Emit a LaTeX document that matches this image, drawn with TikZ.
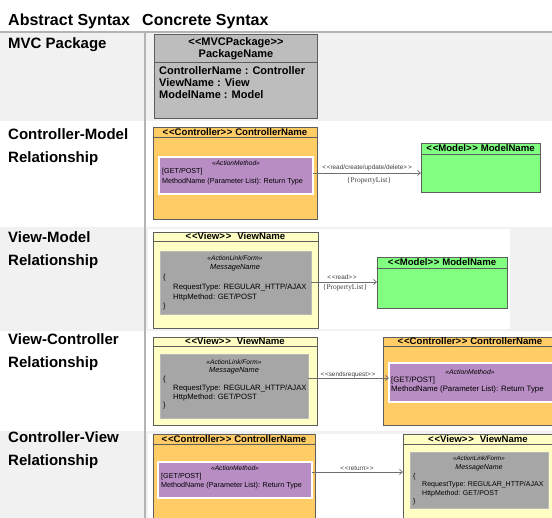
\documentclass[tikz,border=0pt]{standalone}
\usepackage{fontspec}
\setmainfont{Liberation Sans}
\newfontfamily\propfont{Liberation Serif}
\usetikzlibrary{arrows.meta,fit}

\definecolor{rowgray}{HTML}{F1F1F1}
\definecolor{sepgray}{HTML}{B4B4B4}
\definecolor{boxline}{HTML}{5E5E5E}
\definecolor{ctrlfill}{HTML}{FFCC66}
\definecolor{viewfill}{HTML}{FFFFC4}
\definecolor{modelfill}{HTML}{80FF80}
\definecolor{methfill}{HTML}{B88DC3}
\definecolor{msgfill}{HTML}{A6A6A6}
\definecolor{pkgfill}{HTML}{BDBDBD}
\definecolor{relline}{HTML}{6E6E6E}

% stereotype brackets, kept apart so they are not merged into guillemets
\newcommand\dblL{<\kern0.8pt<}
\newcommand\dblR{>\kern0.8pt>}
\newcommand\tightL{<\kern0.2pt<}
\newcommand\tightR{>\kern0.2pt>}

\begin{document}
\begin{tikzpicture}[x=1pt,y=-1pt,
  hdr/.style={font=\bfseries\fontsize{16}{18}\selectfont, inner sep=0, anchor=base west},
  rowlabel/.style={font=\bfseries\fontsize{15}{17}\selectfont, inner sep=0, anchor=base west},
  cls/.style={draw=boxline, line width=0.7pt, inner sep=0, outer sep=0},
  ttl/.style={font=\bfseries\fontsize{9.6}{11}\selectfont, inner sep=0},
  pkgtxt/.style={font=\bfseries\fontsize{11}{13}\selectfont, inner sep=0},
  meth/.style={draw=white, line width=1.2pt, fill=methfill, inner sep=0, outer sep=0},
  msg/.style={draw=gray!55, line width=0.6pt, fill=msgfill, inner sep=0, outer sep=0},
  small/.style={font=\fontsize{#1}{9}\selectfont, inner sep=0},
  smallit/.style={font=\itshape\fontsize{#1}{9}\selectfont, inner sep=0},
  rel/.style={draw=relline, line width=0.7pt, -{Straight Barb[length=3pt,width=5pt]}},
  rellabel/.style={font=\fontsize{6.4}{7}\selectfont, text=black!75, inner sep=0},
  proplabel/.style={font=\propfont\fontsize{7.4}{8}\selectfont, text=black!75, inner sep=0},
]
\useasboundingbox (0,0) rectangle (552,518);
\clip (0,0) rectangle (552,518);

% row backgrounds
\fill[white] (0,0) rectangle (552,518);
\fill[rowgray] (0,33) rectangle (552,121);
\fill[rowgray] (0,227) rectangle (552,331);
\fill[white] (148,229) rectangle (510,329);
\fill[rowgray] (0,431) rectangle (552,518);
\fill[white] (148,434) rectangle (552,518);
\draw[sepgray, line width=1.5pt] (0,32) -- (552,32);
\draw[sepgray, line width=1.5pt] (145,33) -- (145,518);

% column headings
\node[hdr] (habs) at (8,26) {Abstract Syntax};
\node[hdr] (hcon) at (142,26) {Concrete Syntax};

% row headings
\node[rowlabel] (l1) at (8,49) {MVC Package};
\node[rowlabel] (l2a) at (8,140) {Controller-Model};
\node[rowlabel] (l2b) at (8,163) {Relationship};
\node[rowlabel] (l3a) at (8,243) {View-Model};
\node[rowlabel] (l3b) at (8,266) {Relationship};
\node[rowlabel] (l4a) at (8,345) {View-Controller};
\node[rowlabel] (l4b) at (8,368) {Relationship};
\node[rowlabel] (l5a) at (8,443) {Controller-View};
\node[rowlabel] (l5b) at (8,466) {Relationship};

% ---- MVC package
\node[cls, fill=pkgfill, fit={(154,34) (317,118)}] (pkg) {};
\draw[boxline, line width=0.7pt] ([yshift=-28pt]pkg.north west) -- ([yshift=-28pt]pkg.north east);
\node[pkgtxt] (pkgst) at (236,43) {\tightL MVCPackage\tightR};
\node[pkgtxt] (pkgnm) at (236,55) {PackageName};
\node[pkgtxt, anchor=west] (pa1) at (159,71) {ControllerName : Controller};
\node[pkgtxt, anchor=west] (pa2) at (159,83) {ViewName : View};
\node[pkgtxt, anchor=west] (pa3) at (159,95) {ModelName : Model};

% ---- Controller-Model
\node[cls, fill=ctrlfill, fit={(153,127) (317,219)}] (c2) {};
\draw[boxline, line width=0.7pt] ([yshift=-10pt]c2.north west) -- ([yshift=-10pt]c2.north east);
\node[ttl] (c2t) at ([yshift=-5pt]c2.north) {\dblL Controller\dblR\ ControllerName};
\node[meth, fit={(159,157) (313,194)}] (p2) {};
\node[smallit=6.6] (p2s) at (236,163) {«ActionMethod»};
\node[small=7.2, anchor=west] (p2a) at (162,172) {[GET/POST]};
\node[small=7.2, anchor=west] (p2b) at (162,182) {MethodName (Parameter List): Return Type};

\node[cls, fill=modelfill, fit={(421,143) (540,192)}] (m2) {};
\draw[boxline, line width=0.7pt] ([yshift=-11pt]m2.north west) -- ([yshift=-11pt]m2.north east);
\node[ttl] (m2t) at ([yshift=-5.5pt]m2.north) {\dblL Model\dblR\ ModelName};

\draw[rel] ([yshift=2.5pt]p2.east) -- ([yshift=2.5pt]p2.east -| m2.west);
\node[rellabel] (r2) at (367,168) {\dblL read/create/update/delete\dblR};
\node[proplabel] (r2p) at (369,181) {\{PropertyList\}};

% ---- View-Model
\node[cls, fill=viewfill, fit={(153,232) (318,328)}] (v3) {};
\draw[boxline, line width=0.7pt] ([yshift=-9pt]v3.north west) -- ([yshift=-9pt]v3.north east);
\node[ttl] (v3t) at ([yshift=-4.5pt]v3.north) {\dblL View\dblR\hspace{6pt}ViewName};
\node[msg, fit={(160,251) (311,314)}] (g3) {};
\node[smallit=6.6] (g3s) at (235,258) {«ActionLink/Form»};
\node[smallit=7.4] (g3n) at (235,268) {MessageName};
\node[small=7.4, anchor=west] (g3o) at (163,278) {\{};
\node[small=7.7, anchor=west] (g3a) at (173,288) {RequestType: REGULAR\_HTTP/AJAX};
\node[small=7.7, anchor=west] (g3b) at (173,298) {HttpMethod: GET/POST};
\node[small=7.4, anchor=west] (g3c) at (163,307) {\}};

\node[cls, fill=modelfill, fit={(377,257) (507,308)}] (m3) {};
\draw[boxline, line width=0.7pt] ([yshift=-11pt]m3.north west) -- ([yshift=-11pt]m3.north east);
\node[ttl] (m3t) at ([yshift=-5.5pt]m3.north) {\dblL Model\dblR\ ModelName};

\draw[rel] ([yshift=0.5pt]g3.east) -- ([yshift=0.5pt]g3.east -| m3.west);
\node[rellabel] (r3) at (342,277) {\dblL read\dblR};
\node[proplabel] (r3p) at (345,288) {\{PropertyList\}};

% ---- View-Controller
\node[cls, fill=viewfill, fit={(153,337) (317,425)}] (v4) {};
\draw[boxline, line width=0.7pt] ([yshift=-9pt]v4.north west) -- ([yshift=-9pt]v4.north east);
\node[ttl] (v4t) at ([yshift=-4.5pt]v4.north) {\dblL View\dblR\hspace{6pt}ViewName};
\node[msg, fit={(160,354) (308,418)}] (g4) {};
\node[smallit=6.6] (g4s) at (234,362) {«ActionLink/Form»};
\node[smallit=7.4] (g4n) at (234,371) {MessageName};
\node[small=7.4, anchor=west] (g4o) at (163,380) {\{};
\node[small=7.7, anchor=west] (g4a) at (173,389) {RequestType: REGULAR\_HTTP/AJAX};
\node[small=7.7, anchor=west] (g4b) at (173,398) {HttpMethod: GET/POST};
\node[small=7.4, anchor=west] (g4c) at (163,406) {\}};

\node[cls, fill=ctrlfill, fit={(383,337) (557,425)}] (c4) {};
\draw[boxline, line width=0.7pt] ([yshift=-9pt]c4.north west) -- ([yshift=-9pt]c4.north east);
\node[ttl] (c4t) at (470,341.5) {\dblL Controller\dblR\ ControllerName};
\node[meth, fit={(389,363) (560,402)}] (p4) {};
\node[smallit=6.8] (p4s) at (470,372) {«ActionMethod»};
\node[small=7.8, anchor=west] (p4a) at (391,380) {[GET/POST]};
\node[small=7.8, anchor=west] (p4b) at (391,389) {MethodName (Parameter List): Return Type};

\draw[rel] ([yshift=8pt]g4.east) -- ([yshift=8pt]g4.east -| p4.west);
\node[rellabel] (r4) at (348,375) {\dblL sendsrequest\dblR};

% ---- Controller-View
\node[cls, fill=ctrlfill, fit={(153,434) (315,530)}] (c5) {};
\draw[boxline, line width=0.7pt] ([yshift=-10pt]c5.north west) -- ([yshift=-10pt]c5.north east);
\node[ttl] (c5t) at ([yshift=-5pt]c5.north) {\dblL Controller\dblR\ ControllerName};
\node[meth, fit={(158,462) (312,498)}] (p5) {};
\node[smallit=6.6] (p5s) at (235,468) {«ActionMethod»};
\node[small=7.2, anchor=west] (p5a) at (161,477) {[GET/POST]};
\node[small=7.2, anchor=west] (p5b) at (161,486) {MethodName (Parameter List): Return Type};

\node[cls, fill=viewfill, fit={(403,434) (555,530)}] (v5) {};
\draw[boxline, line width=0.7pt] ([yshift=-10pt]v5.north west) -- ([yshift=-10pt]v5.north east);
\node[ttl] (v5t) at (478,439) {\dblL View\dblR\hspace{6pt}ViewName};
\node[msg, fit={(410,452) (548,508)}] (g5) {};
\node[smallit=6.2] (g5s) at (479,458) {«ActionLink/Form»};
\node[smallit=7.0] (g5n) at (479,468) {MessageName};
\node[small=7.0, anchor=west] (g5o) at (413,477) {\{};
\node[small=7.0, anchor=west] (g5a) at (422,485) {RequestType: REGULAR\_HTTP/AJAX};
\node[small=7.0, anchor=west] (g5b) at (422,494) {HttpMethod: GET/POST};
\node[small=7.0, anchor=west] (g5c) at (413,502) {\}};

\draw[rel] ([yshift=8pt]p5.east) -- ([yshift=8pt]p5.east -| v5.west);
\node[rellabel] (r5) at (357,468) {\dblL return\dblR};
\end{tikzpicture}
\end{document}
